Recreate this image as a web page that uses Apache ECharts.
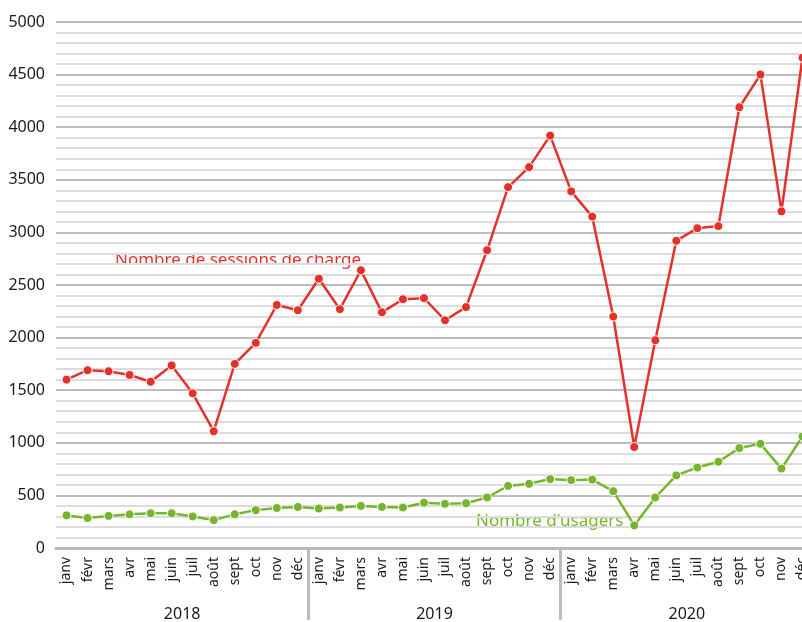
<!DOCTYPE html>
<html>
<head>
<meta charset="utf-8">
<script src="https://cdn.jsdelivr.net/npm/echarts@6/dist/echarts.min.js"></script>
<style>
  html, body { margin: 0; padding: 0; background: #fff; overflow: hidden; }
  #chart { width: 813px; height: 622px; }
</style>
</head>
<body>
<div id="chart"></div>
<script>
// mois et années
var months = ['janv', 'févr', 'mars', 'avr', 'mai', 'juin', 'juil', 'août', 'sept', 'oct', 'nov', 'déc'];
var years = ['2018', '2019', '2020'];

// Nombre de sessions de charge
var sessions2018 = [1600, 1690, 1680, 1645, 1580, 1735, 1470, 1110, 1750, 1950, 2310, 2260];
var sessions2019 = [2560, 2270, 2640, 2240, 2365, 2375, 2165, 2290, 2830, 3430, 3620, 3920];
var sessions2020 = [3390, 3150, 2200, 960, 1975, 2920, 3040, 3060, 4190, 4500, 3200, 4660];

// Nombre d'usagers
var usagers2018 = [310, 285, 305, 320, 330, 330, 300, 265, 320, 360, 380, 390];
var usagers2019 = [375, 385, 400, 390, 385, 430, 420, 425, 480, 590, 610, 655];
var usagers2020 = [645, 650, 540, 215, 480, 690, 765, 820, 950, 990, 755, 1060];

var categories = [];
years.forEach(function (y) {
  months.forEach(function (m) { categories.push(m + ' ' + y); });
});
var sessions = sessions2018.concat(sessions2019, sessions2020);
var usagers = usagers2018.concat(usagers2019, usagers2020);

var red = '#e4322b';
var green = '#78b52e';
var font = 'Noto Sans';

var chart = echarts.init(document.getElementById('chart'));
chart.setOption({
  animation: false,
  grid: { left: 56, right: 0, top: 22, bottom: 74 },
  xAxis: [{
    type: 'category',
    data: categories,
    boundaryGap: true,
    axisLine: { show: true, lineStyle: { color: '#b8b8b8', width: 3 } },
    axisTick: {
      show: true,
      length: 72,
      interval: function (index) { return index === 12 || index === 24; },
      lineStyle: { color: '#bdbdbd', width: 3 }
    },
    axisLabel: {
      interval: 0,
      rotate: 90,
      margin: 9,
      fontFamily: font,
      fontSize: 14,
      color: '#1a1a1a',
      formatter: function (v) { return v.split(' ')[0]; }
    },
    splitLine: { show: false }
  }, {
    type: 'category',
    data: years,
    position: 'bottom',
    offset: 50,
    axisLine: { show: false },
    axisTick: { show: false },
    axisLabel: { fontFamily: font, fontSize: 16, color: '#1a1a1a' }
  }],
  yAxis: {
    type: 'value',
    min: 0,
    max: 5000,
    interval: 500,
    axisLine: { show: false },
    axisTick: { show: false },
    axisLabel: {
      fontFamily: font, fontSize: 16, color: '#1a1a1a', margin: 11,
      formatter: function (v) { return String(v); }
    },
    splitLine: { lineStyle: { color: '#bdbdbd', width: 2 } },
    minorTick: { show: false, splitNumber: 5 },
    minorSplitLine: { show: true, lineStyle: { color: '#dcdcdc', width: 2 } }
  },
  series: [{
    name: 'Nombre de sessions de charge',
    type: 'line',
    data: sessions,
    symbol: 'circle',
    symbolSize: 9,
    itemStyle: { color: red, borderColor: '#fff', borderWidth: 1 },
    lineStyle: { color: red, width: 2.5 },
    z: 3
  }, {
    name: "Nombre d'usagers",
    type: 'line',
    data: usagers,
    symbol: 'circle',
    symbolSize: 9,
    itemStyle: { color: green, borderColor: '#fff', borderWidth: 1 },
    lineStyle: { color: green, width: 2.5 },
    z: 2
  }],
  graphic: [{
    type: 'text',
    left: 115,
    top: 252,
    style: { text: 'Nombre de sessions de charge', fill: red, font: '17px "Noto Sans"' }
  }, {
    type: 'text',
    left: 476,
    top: 513,
    style: { text: "Nombre d'usagers", fill: green, font: '17px "Noto Sans"' }
  }]
});
</script>
</body>
</html>
